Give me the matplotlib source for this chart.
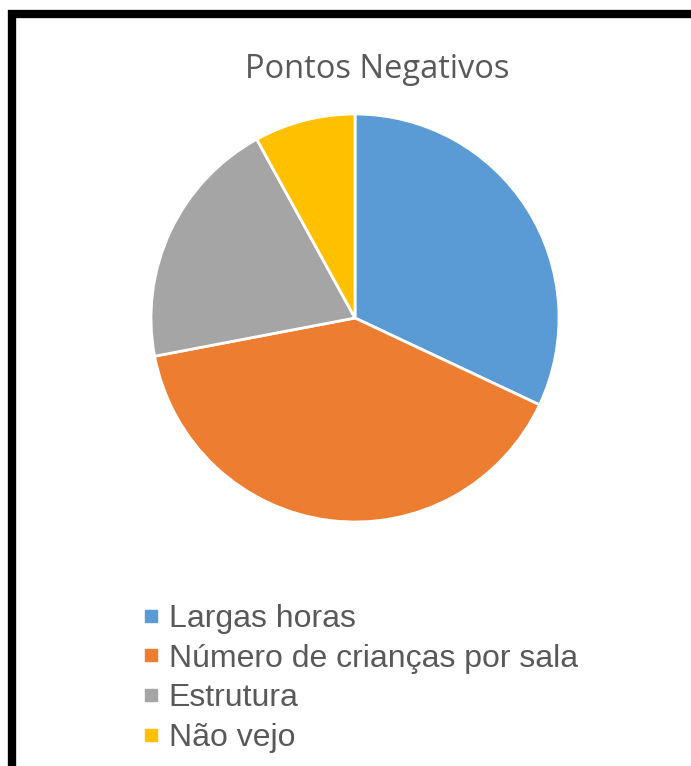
import matplotlib.pyplot as plt
from matplotlib.patches import Rectangle
from matplotlib.lines import Line2D

# data
labels = ['Largas horas', 'Número de crianças por sala', 'Estrutura', 'Não vejo']
values = [8, 10, 5, 2]
colors = ['#5B9BD5', '#ED7D31', '#A5A5A5', '#FFC000']

W, H = 691, 766
fig = plt.figure(figsize=(W / 100, H / 100), dpi=100)
fig.patch.set_facecolor('white')

# black frame (extends past right and bottom edges)
fig.patches.append(Rectangle((12 / W, -0.1), 1.2, (H - 14) / H + 0.1,
                             transform=fig.transFigure, fill=False,
                             edgecolor='black', linewidth=6, zorder=10))

# pie axes in pixel coords
cx, cy, r = 355, 318, 204
ax = fig.add_axes([(cx - r) / W, (H - cy - r) / H, 2 * r / W, 2 * r / H])
ax.pie(values, colors=colors, startangle=90, counterclock=False,
       wedgeprops=dict(edgecolor='white', linewidth=2))
ax.set_xlim(-1, 1)
ax.set_ylim(-1, 1)
ax.axis('off')

fig.text(377 / W, 1 - 70 / H, 'Pontos Negativos', ha='center', va='center',
         fontsize=23.5, color='#595959', family='Open Sans')

handles = [Line2D([], [], marker='s', linestyle='', markersize=9,
                  markerfacecolor=c, markeredgecolor=c) for c in colors]
leg = fig.legend(handles, labels, loc='upper left',
                 bbox_to_anchor=(143 / W, 1 - 604 / H), frameon=False,
                 prop=dict(family='Liberation Sans', size=23),
                 handlelength=0.5, handletextpad=0.3, labelspacing=0.3,
                 borderaxespad=0, borderpad=0)
for t in leg.get_texts():
    t.set_color('#595959')

fig.savefig('out.png', dpi=100)
